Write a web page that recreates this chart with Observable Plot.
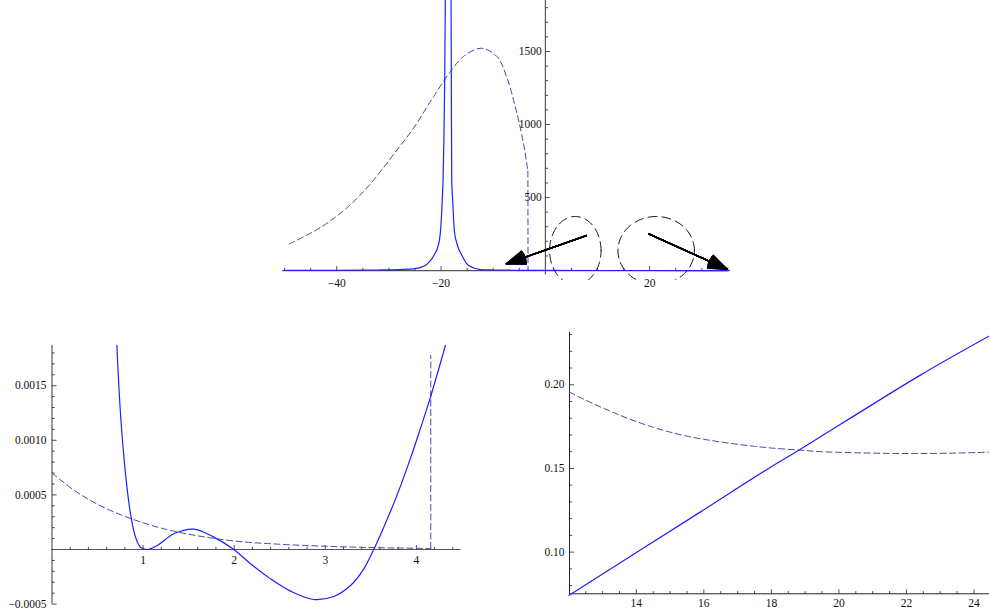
<!DOCTYPE html>
<html><head><meta charset="utf-8">
<script src="https://cdn.jsdelivr.net/npm/d3@7"></script>
<script src="https://cdn.jsdelivr.net/npm/@observablehq/plot@0.6"></script>
<style>
body{margin:0;background:#fff}
#wrap{position:relative;width:989px;height:615px;overflow:hidden;background:#fff}
#wrap svg{position:absolute;overflow:visible}
#wrap svg text{font-family:"Liberation Serif","DejaVu Serif",serif}
</style></head><body><div id="wrap"></div>
<script>
// ===== Top panel data =====
const aPeakX = [-50, -45, -40, -35, -32, -28, -25.25, -23.3, -22.05, -21.4, -20.45, -20.0, -19.75, -19.62, -19.45, -19.3, -19.18, -18.63, -18.08, -18.02, -17.95, -17.76, -17.45, -16.93, -15.97, -14.7, -12.46, -10, -5, 0, 10, 20, 35];
const aPeakY = [1, 1.3, 2, 3, 4, 7, 11.6, 29, 68, 102, 182, 318, 500, 613, 900, 1300, 1849, 2600, 1849, 1200, 613, 477, 273, 182, 102, 34, 7, 4, 2, 1, 0.5, 0.3, 0.2];
const aDashX = [-49.1, -43.1, -38.0, -33.6, -29.1, -25.25, -21.4, -18.2, -15.7, -12.3, -9.3, -7.35, -5.4, -4.16, -3.6, -3.35];
const aDashY = [182, 295, 431, 591, 795, 977, 1193, 1363, 1466, 1522, 1466, 1318, 1068, 864, 740, 680];
const aDropX = [-3.35, -3.32];
const aDropY = [680, 0];
const circleCx = [5.75, 21.25];
const circleCy = [137, 137];
const circleRx = [4.93, 7.33];
const circleRy = [233, 233];
const arrowX1 = [7.86, 19.81];
const arrowY1 = [240, 251];
const arrowX2 = [-7.48, 34.9];
const arrowY2 = [46, 8];
const aXMajor = [-40, -20, 20];
const aXLabels = ["\u221240", "\u221220", "20"];
const aXMinor = [-50, -45, -35, -30, -25, -15, -10, -5, 5, 10, 15, 25, 30, 35];
const aYMajor = [500, 1000, 1500];
const aYLabels = ["500", "1000", "1500"];
const aYMinor = [100, 200, 300, 400, 600, 700, 800, 900, 1100, 1200, 1300, 1400, 1600, 1700, 1800];

// ===== Bottom-left panel data =====
const bSolidX = [0.712, 0.752, 0.807, 0.862, 0.917, 0.971, 1.045, 1.155, 1.337, 1.557, 1.776, 1.996, 2.179, 2.398, 2.618, 2.874, 3.093, 3.277, 3.423, 3.532, 3.642, 3.789, 3.935, 4.045, 4.155, 4.32];
const bSolidY = [0.00187, 0.001243, 0.000693, 0.000327, 0.000113, 0.000021, 0, 0.000037, 0.000144, 0.000186, 0.000113, 0, -0.000131, -0.000269, -0.000381, -0.000458, -0.00043, -0.00033, -0.000177, 0, 0.000204, 0.0005, 0.000834, 0.001109, 0.001395, 0.00187];
const bDashX = [0, 0.25, 0.5, 0.75, 1.0, 1.25, 1.5, 1.75, 2.0, 2.5, 3.0, 3.5, 4.0, 4.158];
const bDashY = [0.0007, 0.000538, 0.000414, 0.000319, 0.000245, 0.000185, 0.00014, 0.000105, 0.000078, 0.000048, 0.00003, 0.000018, 0.000011, 0.000009];
const bDropX = [4.158, 4.158];
const bDropY = [0.000009, 0.001777];
const bXMajor = [1, 2, 3, 4];
const bXLabels = ["1", "2", "3", "4"];
const bYMajor = [-0.0005, 0.0005, 0.001, 0.0015];
const bYLabels = ["\u22120.0005", "0.0005", "0.0010", "0.0015"];

// ===== Bottom-right panel data =====
const cSolidX = [12.0, 15.89, 17.87, 18.8, 22.4, 24.46];
const cSolidY = [0.0741, 0.1239, 0.1494, 0.1607, 0.2056, 0.2292];
const cDashX = [12.02, 12.5, 13.0, 13.5, 14.0, 14.5, 15.0, 15.5, 16.0, 16.5, 17.0, 17.5, 18.0, 18.8, 19.5, 20.43, 21.5, 22.4, 23.5, 24.46];
const cDashY = [0.1956, 0.1908, 0.1862, 0.1819, 0.1780, 0.1746, 0.1717, 0.1693, 0.1674, 0.1658, 0.1644, 0.1632, 0.1622, 0.1610, 0.1600, 0.1594, 0.1590, 0.1589, 0.1592, 0.1597];
const cXMajor = [14, 16, 18, 20, 22, 24];
const cXLabels = ["14", "16", "18", "20", "22", "24"];
const cYMajor = [0.10, 0.15, 0.20];
const cYLabels = ["0.10", "0.15", "0.20"];

// ===== helpers =====
const SOLID = "#1f1fff", DASH = "#4848a8", AX = "#222";
const FONT = "Liberation Serif, DejaVu Serif, serif";
const pts = (xs, ys) => xs.map((x, i) => ({x, y: ys[i]}));
const tickUp = {draw(c, s) { const r = Math.sqrt(s / Math.PI); c.moveTo(0, 0); c.lineTo(0, -r); }};
const tickRight = {draw(c, s) { const r = Math.sqrt(s / Math.PI); c.moveTo(0, 0); c.lineTo(r, 0); }};
const xt = (vals, y0, len) => Plot.dot(vals, {x: d => d, y: y0, symbol: tickUp, r: len, stroke: AX, strokeWidth: 0.8, fill: "none"});
const yt = (vals, x0, len) => Plot.dot(vals, {x: x0, y: d => d, symbol: tickRight, r: len, stroke: AX, strokeWidth: 0.8, fill: "none"});
const xl = (vals, labels, y0, dy) => Plot.text(vals.map((v, i) => ({v, t: labels[i]})), {x: "v", y: y0, text: "t", dy, fontFamily: FONT, fontSize: 11.5, fill: "#111"});
const yl = (vals, labels, x0, dx) => Plot.text(vals.map((v, i) => ({v, t: labels[i]})), {x: x0, y: "v", text: "t", dx, textAnchor: "end", fontFamily: FONT, fontSize: 11.5, fill: "#111"});
const W = document.getElementById("wrap");
const place = (svg, left, top) => { svg.style.left = left + "px"; svg.style.top = top + "px"; W.appendChild(svg); };
const styleBase = {fontFamily: FONT, fontSize: "11.5px", background: "transparent", overflow: "visible"};
const dashLine = (xs, ys, curve, clip) => Plot.line(pts(xs, ys), {x: "x", y: "y", stroke: DASH, strokeWidth: 1, strokeDasharray: "6,3.5", curve, clip});

// ===== Top panel =====
const ellipse = [];
circleCx.forEach((cx, k) => {
  d3.range(0, 361, 3).forEach(a => {
    const t = a * Math.PI / 180;
    ellipse.push({k, x: cx + circleRx[k] * Math.cos(t), y: circleCy[k] + circleRy[k] * Math.sin(t)});
  });
});
const arrows = arrowX1.map((x1, i) => ({x1, y1: arrowY1[i], x2: arrowX2[i], y2: arrowY2[i]}));

place(Plot.plot({
  width: 989, height: 300, marginLeft: 282, marginRight: 259, marginTop: 0, marginBottom: 20,
  x: {domain: [-50.4, 35.5], axis: null},
  y: {domain: [-68, 1849], axis: null},
  style: styleBase,
  marks: [
    Plot.ruleY([0], {stroke: "#555", strokeWidth: 1.2}),
    Plot.ruleX([0], {y1: -30, y2: 1849, stroke: AX, strokeWidth: 0.9}),
    xt(aXMinor, 0, 2.7), xt(aXMajor, 0, 4.5),
    yt(aYMinor, 0, 2.7), yt(aYMajor, 0, 4.5),
    dashLine(aDashX, aDashY, "catmull-rom", true),
    dashLine(aDropX, aDropY, "linear", true),
    Plot.line(pts(aPeakX, aPeakY), {x: "x", y: "y", stroke: SOLID, strokeWidth: 1.2, curve: "monotone-x", clip: true}),
    Plot.line(ellipse, {x: "x", y: "y", z: "k", stroke: "#111", strokeWidth: 1, strokeDasharray: "9,5", clip: true}),
    ...d3.range(3, 43, 3).map(a => Plot.arrow(arrows, {x1: "x1", y1: "y1", x2: "x2", y2: "y2", headAngle: a, headLength: 23, stroke: "#000", strokeWidth: 1.3})),
    xl(aXMajor, aXLabels, 0, 12.7),
    yl(aYMajor, aYLabels, 0, -3.5)
  ]
}), 0, 0);

// ===== Bottom-left panel =====
place(Plot.plot({
  width: 470, height: 285, marginLeft: 51.5, marginRight: 9.5, marginTop: 15, marginBottom: 11.4,
  x: {domain: [0, 4.49], axis: null},
  y: {domain: [-0.0005, 0.001868], axis: null},
  style: styleBase,
  marks: [
    Plot.ruleY([0], {stroke: "#555", strokeWidth: 1.2}),
    Plot.ruleX([0], {stroke: AX, strokeWidth: 0.9}),
    xt(d3.range(1, 23).map(i => i * 0.2).filter(v => Math.abs(v - Math.round(v)) > 1e-6), 0, 2.7),
    xt(bXMajor, 0, 4.5),
    yt(d3.range(-4, 19).map(i => i * 0.0001).filter(v => Math.abs(v) > 1e-9 && Math.abs(v * 2000 - Math.round(v * 2000)) > 1e-6), 0, 2.7),
    yt(bYMajor, 0, 4.5),
    dashLine(bDashX, bDashY, "monotone-x", true),
    dashLine(bDropX, bDropY, "linear", true),
    Plot.line(pts(bSolidX, bSolidY), {x: "x", y: "y", stroke: SOLID, strokeWidth: 1.2, curve: "catmull-rom", clip: true}),
    xl(bXMajor, bXLabels, 0, 11),
    yl(bYMajor, bYLabels, 0, -5.5)
  ]
}), 0, 330);

// ===== Bottom-right panel =====
const cX0 = 12.02, cY0 = 0.0751;
place(Plot.plot({
  width: 469, height: 295, marginLeft: 49, marginRight: 0, marginTop: 11.7, marginBottom: 21.7,
  x: {domain: [cX0, 24.46], axis: null},
  y: {domain: [cY0, 0.2314], axis: null},
  style: styleBase,
  marks: [
    Plot.ruleY([cY0], {stroke: AX, strokeWidth: 1}),
    Plot.ruleX([cX0], {stroke: AX, strokeWidth: 1}),
    xt(d3.range(25, 49).map(i => i * 0.5).filter(v => !(v % 2 === 0 && v >= 14)), cY0, 2.7),
    xt(cXMajor, cY0, 4.5),
    yt(d3.range(8, 24).map(i => i * 0.01).filter(v => Math.abs(v * 20 - Math.round(v * 20)) > 1e-6), cX0, 2.7),
    yt(cYMajor, cX0, 4.5),
    dashLine(cDashX, cDashY, "catmull-rom", false),
    Plot.line(pts(cSolidX, cSolidY), {x: "x", y: "y", stroke: SOLID, strokeWidth: 1.2, curve: "catmull-rom"}),
    xl(cXMajor, cXLabels, cY0, 10),
    yl(cYMajor, cYLabels, cX0, -5)
  ]
}), 520, 320);
</script>
</body></html>
